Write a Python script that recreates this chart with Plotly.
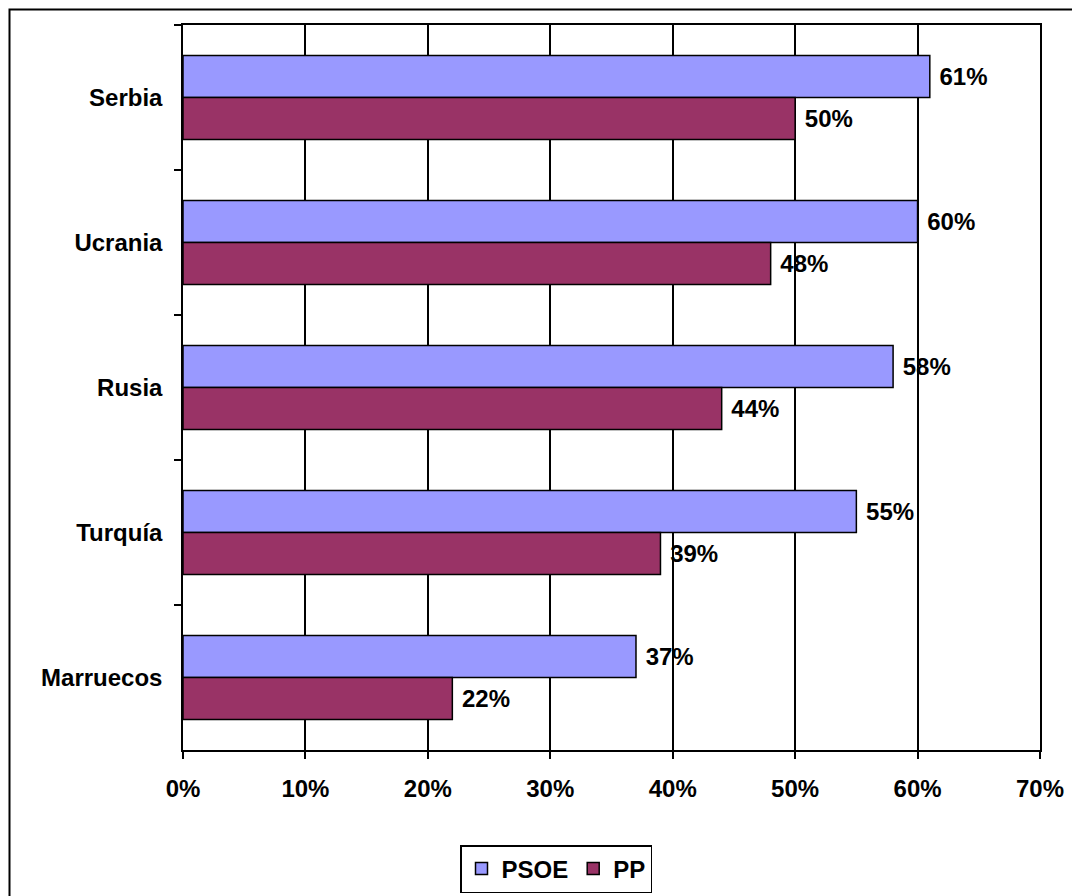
import plotly.graph_objects as go

categories = ["Serbia", "Ucrania", "Rusia", "Turquía", "Marruecos"]
psoe = [0.61, 0.60, 0.58, 0.55, 0.37]
pp = [0.50, 0.48, 0.44, 0.39, 0.22]
x_ticks = [0, 0.1, 0.2, 0.3, 0.4, 0.5, 0.6, 0.7]
x_tick_labels = ["0%", "10%", "20%", "30%", "40%", "50%", "60%", "70%"]

FONT = "Liberation Sans, Arial, sans-serif"
bold = dict(family=FONT, size=24, color="black", weight="bold")

fig = go.Figure()
fig.add_trace(go.Bar(
    y=categories, x=psoe, name="PSOE", orientation="h",
    marker=dict(color="#9999FF", line=dict(color="black", width=1.5)),
    texttemplate=" %{x:.0%}", textposition="outside", textfont=bold,
    cliponaxis=False,
))
fig.add_trace(go.Bar(
    y=categories, x=pp, name="PP", orientation="h",
    marker=dict(color="#993366", line=dict(color="black", width=1.5)),
    texttemplate=" %{x:.0%}", textposition="outside", textfont=bold,
    cliponaxis=False,
))

OFF = 8  # page body margin
W, H = 1080, 900
L, T = 183 - OFF, 25 - OFF
R = W - (1040 - OFF)
B = H - (750 - OFF)
pw, ph = W - L - R, H - T - B

def px_x(p):
    return (p - OFF - L) / pw

def px_y(p):
    return (H - B - (p - OFF)) / ph

fig.update_layout(
    width=W, height=H,
    margin=dict(l=L, r=R, t=T, b=B, autoexpand=False),
    paper_bgcolor="white", plot_bgcolor="white",
    barmode="group", bargap=0.42, bargroupgap=0,
    font=dict(family=FONT, size=24, color="black"),
    showlegend=True,
    legend=dict(
        orientation="h", x=px_x(556), y=px_y(869),
        xanchor="center", yanchor="middle",
        bordercolor="black", borderwidth=1.5, bgcolor="white",
        font=bold, traceorder="normal", itemwidth=30,
    ),
    shapes=[dict(
        type="rect", xref="paper", yref="paper",
        x0=px_x(OFF + 1.5), x1=px_x(1090), y0=px_y(905), y1=px_y(OFF + 1.5),
        line=dict(color="black", width=2), fillcolor="rgba(0,0,0,0)",
        layer="below",
    )],
)

fig.update_xaxes(
    range=[0, 0.7], tickvals=x_ticks, ticktext=x_tick_labels,
    showgrid=True, gridcolor="black", gridwidth=1.5,
    showline=True, linecolor="black", linewidth=1.5, mirror=True,
    ticks="outside", ticklen=7, tickcolor="black", tickwidth=1.5,
    tickfont=bold, ticklabelstandoff=9, zeroline=False, automargin=False,
)
fig.update_yaxes(
    autorange="reversed", type="category",
    showgrid=False,
    showline=True, linecolor="black", linewidth=1.5, mirror=True,
    ticks="outside", ticklen=7, tickcolor="black", tickwidth=1.5,
    tickson="boundaries", automargin=False,
    tickfont=bold, ticklabelstandoff=14,
)

fig.write_html("out.html")
